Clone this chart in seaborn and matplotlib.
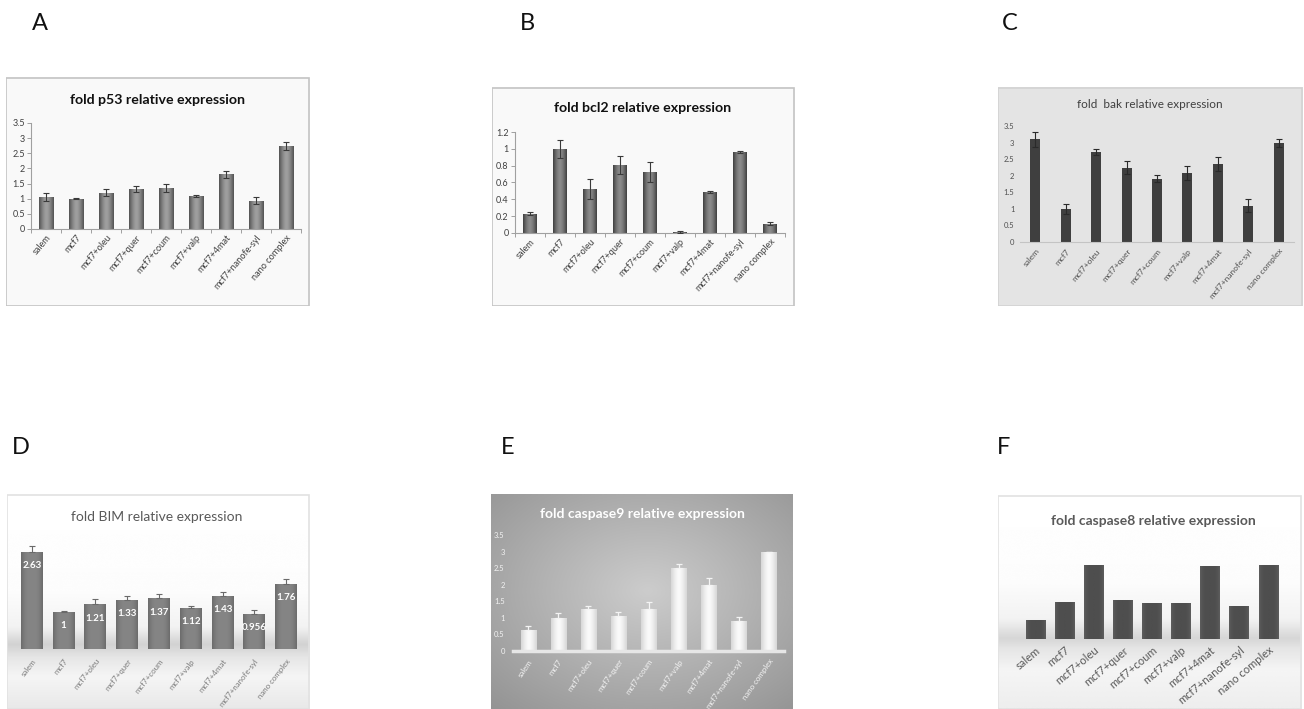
import numpy as np
import matplotlib
matplotlib.use("Agg")
import matplotlib.pyplot as plt
import seaborn as sns
from matplotlib.colors import LinearSegmentedColormap
from matplotlib.patches import Rectangle

# ---- data -------------------------------------------------------------
categories = ["salem", "mcf7", "mcf7+oleu", "mcf7+quer", "mcf7+coum",
              "mcf7+valp", "mcf7+4mat", "mcf7+nanofe-syl", "nano complex"]

p53 = [1.05, 1.0, 1.20, 1.32, 1.36, 1.10, 1.80, 0.94, 2.75]
p53_err = [0.13, 0.02, 0.11, 0.11, 0.13, 0.03, 0.13, 0.13, 0.13]

bcl2 = [0.23, 1.0, 0.52, 0.81, 0.72, 0.015, 0.49, 0.96, 0.11]
bcl2_err = [0.02, 0.11, 0.12, 0.11, 0.12, 0.01, 0.01, 0.01, 0.02]

bak = [3.10, 1.0, 2.72, 2.24, 1.91, 2.08, 2.35, 1.10, 3.0]
bak_err = [0.22, 0.15, 0.10, 0.20, 0.10, 0.20, 0.20, 0.20, 0.12]

bim = [2.63, 1, 1.21, 1.33, 1.37, 1.12, 1.43, 0.956, 1.76]
bim_err = [0.15, 0.02, 0.13, 0.11, 0.12, 0.03, 0.11, 0.11, 0.14]
bim_labels = ["2.63", "1", "1.21", "1.33", "1.37", "1.12", "1.43", "0.956", "1.76"]

casp9 = [0.63, 1.0, 1.26, 1.05, 1.28, 2.51, 1.99, 0.91, 3.0]
casp9_err = [0.12, 0.14, 0.11, 0.13, 0.20, 0.13, 0.21, 0.13, 0.0]

casp8 = [0.50, 1.0, 2.0, 1.05, 0.96, 0.96, 1.96, 0.90, 2.0]

panel_letters = ["A", "B", "C", "D", "E", "F"]

# ---- figure setup -----------------------------------------------------
sns.set_theme(style="white")
plt.rcParams["font.family"] = ["Lato", "DejaVu Sans"]

W, H = 1304, 709
fig = plt.figure(figsize=(W / 100, H / 100), dpi=100)
fig.patch.set_facecolor("white")


def rect(x0, y0, x1, y1):
    """Pixel box (top-left origin) -> figure-fraction rectangle."""
    return [x0 / W, 1 - y1 / H, (x1 - x0) / W, (y1 - y0) / H]


def ftext(x, y, s, **kw):
    fig.text(x / W, 1 - y / H, s, ha="center", va="center", **kw)


def frame(x0, y0, x1, y1, face=None, edge=None, image=None, cmap=None):
    fa = fig.add_axes(rect(x0, y0, x1, y1), zorder=0)
    fa.set_axis_off()
    fa.set_xlim(0, 1)
    fa.set_ylim(0, 1)
    if image is not None:
        fa.imshow(image, extent=[0, 1, 0, 1], aspect="auto", cmap=cmap,
                  vmin=0, vmax=1, interpolation="bicubic", origin="upper")
    elif face is not None:
        fa.add_patch(Rectangle((0, 0), 1, 1, facecolor=face, edgecolor="none"))
    if edge is not None:
        fa.add_patch(Rectangle((0.001, 0.002), 0.997, 0.995, facecolor="none",
                               edgecolor=edge, lw=1.2))
    return fa


def shade_bars(ax, dark, light, power=1.6):
    """Cylinder-like horizontal shading clipped to every bar."""
    cmap = LinearSegmentedColormap.from_list("cyl", [dark, light])
    prof = 1 - np.abs(np.linspace(-1, 1, 64)) ** power
    grad = prof.reshape(1, -1)
    xl, yl = ax.get_xlim(), ax.get_ylim()
    for p in list(ax.patches):
        x0, y0 = p.get_x(), p.get_y()
        w, h = p.get_width(), p.get_height()
        im = ax.imshow(grad, extent=[x0, x0 + w, y0, y0 + h], aspect="auto",
                       cmap=cmap, vmin=0, vmax=1, zorder=p.get_zorder() + 0.1,
                       interpolation="bicubic")
        im.set_clip_path(p)
    ax.set_xlim(xl)
    ax.set_ylim(yl)


def bar_axes(x0, y0, x1, y1, values, color, width, ylim):
    ax = fig.add_axes(rect(x0, y0, x1, y1), zorder=2)
    ax.patch.set_alpha(0)
    sns.barplot(x=categories, y=values, ax=ax, color=color, width=width,
                saturation=1, errorbar=None, linewidth=0)
    ax.set_xlim(-0.5, len(categories) - 0.5)
    ax.set_ylim(*ylim)
    ax.set_xlabel("")
    ax.set_ylabel("")
    for s in ax.spines.values():
        s.set_visible(False)
    return ax


def xlabels(ax, rot, size, color, pad=2):
    ax.set_xticks(range(len(categories)))
    ax.set_xticklabels(categories, rotation=rot, ha="right",
                       rotation_mode="anchor", fontsize=size, color=color)
    ax.tick_params(axis="x", which="major", length=0, pad=pad)


pos = np.arange(len(categories))

# ---- panel letters ----------------------------------------------------
for letter, (lx, ly) in zip(panel_letters, [(40, 23), (527, 23), (1010, 23),
                                             (21, 447), (508, 447), (1004, 447)]):
    ftext(lx, ly, letter, fontsize=17, color="#111111")

# ---- A: p53 -----------------------------------------------------------
frame(6, 77, 310, 306, face="#f9f9f9", edge="#c4c4c4")
ax = bar_axes(31, 123, 301, 229, p53, "#808080", 0.47, (0, 3.5))
shade_bars(ax, "#505050", "#a0a0a0")
ax.errorbar(pos, p53, yerr=p53_err, fmt="none", ecolor="#3a3a3a",
            elinewidth=0.8, capsize=2.2, capthick=0.8, zorder=5)
ax.spines["left"].set_visible(True)
ax.spines["bottom"].set_visible(True)
ax.spines["left"].set_color("#a0a0a0")
ax.spines["bottom"].set_color("#a0a0a0")
ax.spines["left"].set_linewidth(0.8)
ax.spines["bottom"].set_linewidth(0.8)
ax.set_yticks(np.arange(0, 3.51, 0.5))
ax.set_yticklabels(["0", "0.5", "1", "1.5", "2", "2.5", "3", "3.5"])
ax.tick_params(axis="y", length=3, width=0.7, color="#a0a0a0", labelsize=6.5,
               labelcolor="#404040", pad=1.5, left=True)
ax.set_xticks(np.arange(-0.5, 9, 1), minor=True)
ax.tick_params(axis="x", which="minor", length=3, width=0.7, color="#a0a0a0",
               bottom=True)
xlabels(ax, 50, 6.6, "#404040", pad=3)
ftext(158, 100, "fold p53 relative expression", fontsize=10.2,
      fontweight="bold", color="#111111")

# ---- B: bcl2 ----------------------------------------------------------
frame(492, 87, 795, 306, face="#f9f9f9", edge="#c4c4c4")
ax = bar_axes(515, 132, 785, 233, bcl2, "#686868", 0.45, (0, 1.2))
shade_bars(ax, "#3e3e3e", "#8c8c8c")
ax.errorbar(pos, bcl2, yerr=bcl2_err, fmt="none", ecolor="#3a3a3a",
            elinewidth=0.8, capsize=2.2, capthick=0.8, zorder=5)
ax.spines["left"].set_visible(True)
ax.spines["bottom"].set_visible(True)
ax.spines["left"].set_color("#a0a0a0")
ax.spines["bottom"].set_color("#a0a0a0")
ax.spines["left"].set_linewidth(0.8)
ax.spines["bottom"].set_linewidth(0.8)
ax.set_yticks(np.arange(0, 1.21, 0.2))
ax.set_yticklabels(["0", "0.2", "0.4", "0.6", "0.8", "1", "1.2"])
ax.tick_params(axis="y", length=3, width=0.7, color="#a0a0a0", labelsize=6.5,
               labelcolor="#404040", pad=1.5, left=True)
ax.set_xticks(np.arange(-0.5, 9, 1), minor=True)
ax.tick_params(axis="x", which="minor", length=3, width=0.7, color="#a0a0a0",
               bottom=True)
xlabels(ax, 47, 6.6, "#404040", pad=3)
ftext(643, 108, "fold bcl2 relative expression", fontsize=10.2,
      fontweight="bold", color="#111111")

# ---- C: bak -----------------------------------------------------------
frame(998, 87, 1303, 306, face="#e4e4e4", edge="#d2d2d2")
ax = bar_axes(1020, 126, 1294, 242, bak, "#3f3f3f", 0.33, (0, 3.5))
ax.errorbar(pos, bak, yerr=bak_err, fmt="none", ecolor="#2a2a2a",
            elinewidth=0.8, capsize=2.0, capthick=0.8, zorder=5)
ax.spines["bottom"].set_visible(True)
ax.spines["bottom"].set_color("#c4c4c4")
ax.spines["bottom"].set_linewidth(0.8)
ax.set_yticks(np.arange(0, 3.51, 0.5))
ax.set_yticklabels(["0", "0.5", "1", "1.5", "2", "2.5", "3", "3.5"])
ax.tick_params(axis="y", length=0, labelsize=5.5, labelcolor="#505050", pad=4)
xlabels(ax, 50, 6, "#505050", pad=4)
ftext(1150, 105, "fold  bak relative expression", fontsize=8.5,
      color="#404040")

# ---- D: BIM -----------------------------------------------------------
ys = np.linspace(0, 1, 300)
prof_pts = [(0.0, 1.0), (0.45, 0.99), (0.62, 0.95), (0.70, 0.82),
            (0.76, 0.90), (0.85, 0.96), (1.0, 0.91)]
py, pv = zip(*prof_pts)
col = np.interp(ys, py, pv)
img_d = np.repeat(col[:, None], 10, axis=1)
frame(7, 494, 310, 709, image=img_d, cmap="gray", edge="#e2e2e2")
ax = bar_axes(16, 538, 302, 649, bim, "#7a7a7a", 0.69, (0, 3.0))
shade_bars(ax, "#6a6a6a", "#858585", power=3)
ax.errorbar(pos, bim, yerr=[np.zeros(len(bim)), bim_err], fmt="none",
            ecolor="#6a6a6a", elinewidth=0.8, capsize=2.0, capthick=0.8,
            zorder=5)
ax.set_yticks([])
for xi, v, lab in zip(pos, bim, bim_labels):
    ax.annotate(lab, (xi, v), xytext=(0, -10), textcoords="offset points",
                ha="center", va="center", fontsize=7, fontweight="bold",
                color="white", zorder=6)
xlabels(ax, 52, 5.7, "#7a7a7a", pad=6)
ftext(157, 517, "fold BIM relative expression", fontsize=10, color="#595959")

# ---- E: caspase9 ------------------------------------------------------
gy, gx = np.mgrid[0:1:200j, 0:1:300j]
r = np.sqrt(((gx - 0.52) / 0.75) ** 2 + ((gy - 0.45) / 0.75) ** 2)
img_e = 0.80 - 0.22 * np.clip(r, 0, 1.2)
frame(491, 494, 793, 709, image=img_e, cmap="gray")
ax = bar_axes(513, 535, 784, 651, casp9, "#eeeeee", 0.5, (0, 3.5))
shade_bars(ax, "#d6d6d6", "#fbfbfb", power=1.4)
ax.errorbar(pos, casp9, yerr=[np.zeros(len(casp9)), casp9_err], fmt="none",
            ecolor="#f4f4f4", elinewidth=0.9, capsize=2.0, capthick=0.9,
            zorder=5)
ax.spines["bottom"].set_visible(True)
ax.spines["bottom"].set_color("#e6e6e6")
ax.spines["bottom"].set_linewidth(2.5)
ax.set_yticks(np.arange(0, 3.51, 0.5))
ax.set_yticklabels(["0", "0.5", "1", "1.5", "2", "2.5", "3", "3.5"])
ax.tick_params(axis="y", length=0, labelsize=5.5, labelcolor="#f2f2f2", pad=6)
xlabels(ax, 55, 5.7, "#f4f4f4", pad=5)
ftext(642, 514, "fold caspase9 relative expression", fontsize=10,
      fontweight="bold", color="white")

# ---- F: caspase8 ------------------------------------------------------
prof_pts_f = [(0.0, 1.0), (0.40, 0.99), (0.58, 0.95), (0.67, 0.84),
              (0.72, 0.90), (0.82, 0.96), (1.0, 0.93)]
py, pv = zip(*prof_pts_f)
col = np.interp(ys, py, pv)
img_f = np.repeat(col[:, None], 10, axis=1)
frame(998, 495, 1302, 709, image=img_f, cmap="gray", edge="#e2e2e2")
ax = bar_axes(1021, 546, 1283, 639, casp8, "#525252", 0.68, (0, 2.5))
shade_bars(ax, "#5e5e5e", "#4e4e4e", power=4)
ax.set_yticks([])
xlabels(ax, 40, 8, "#595959", pad=4)
ftext(1153, 521, "fold caspase8 relative expression", fontsize=10,
      fontweight="bold", color="#595959")

fig.savefig("out.png", dpi=100, facecolor="white")
